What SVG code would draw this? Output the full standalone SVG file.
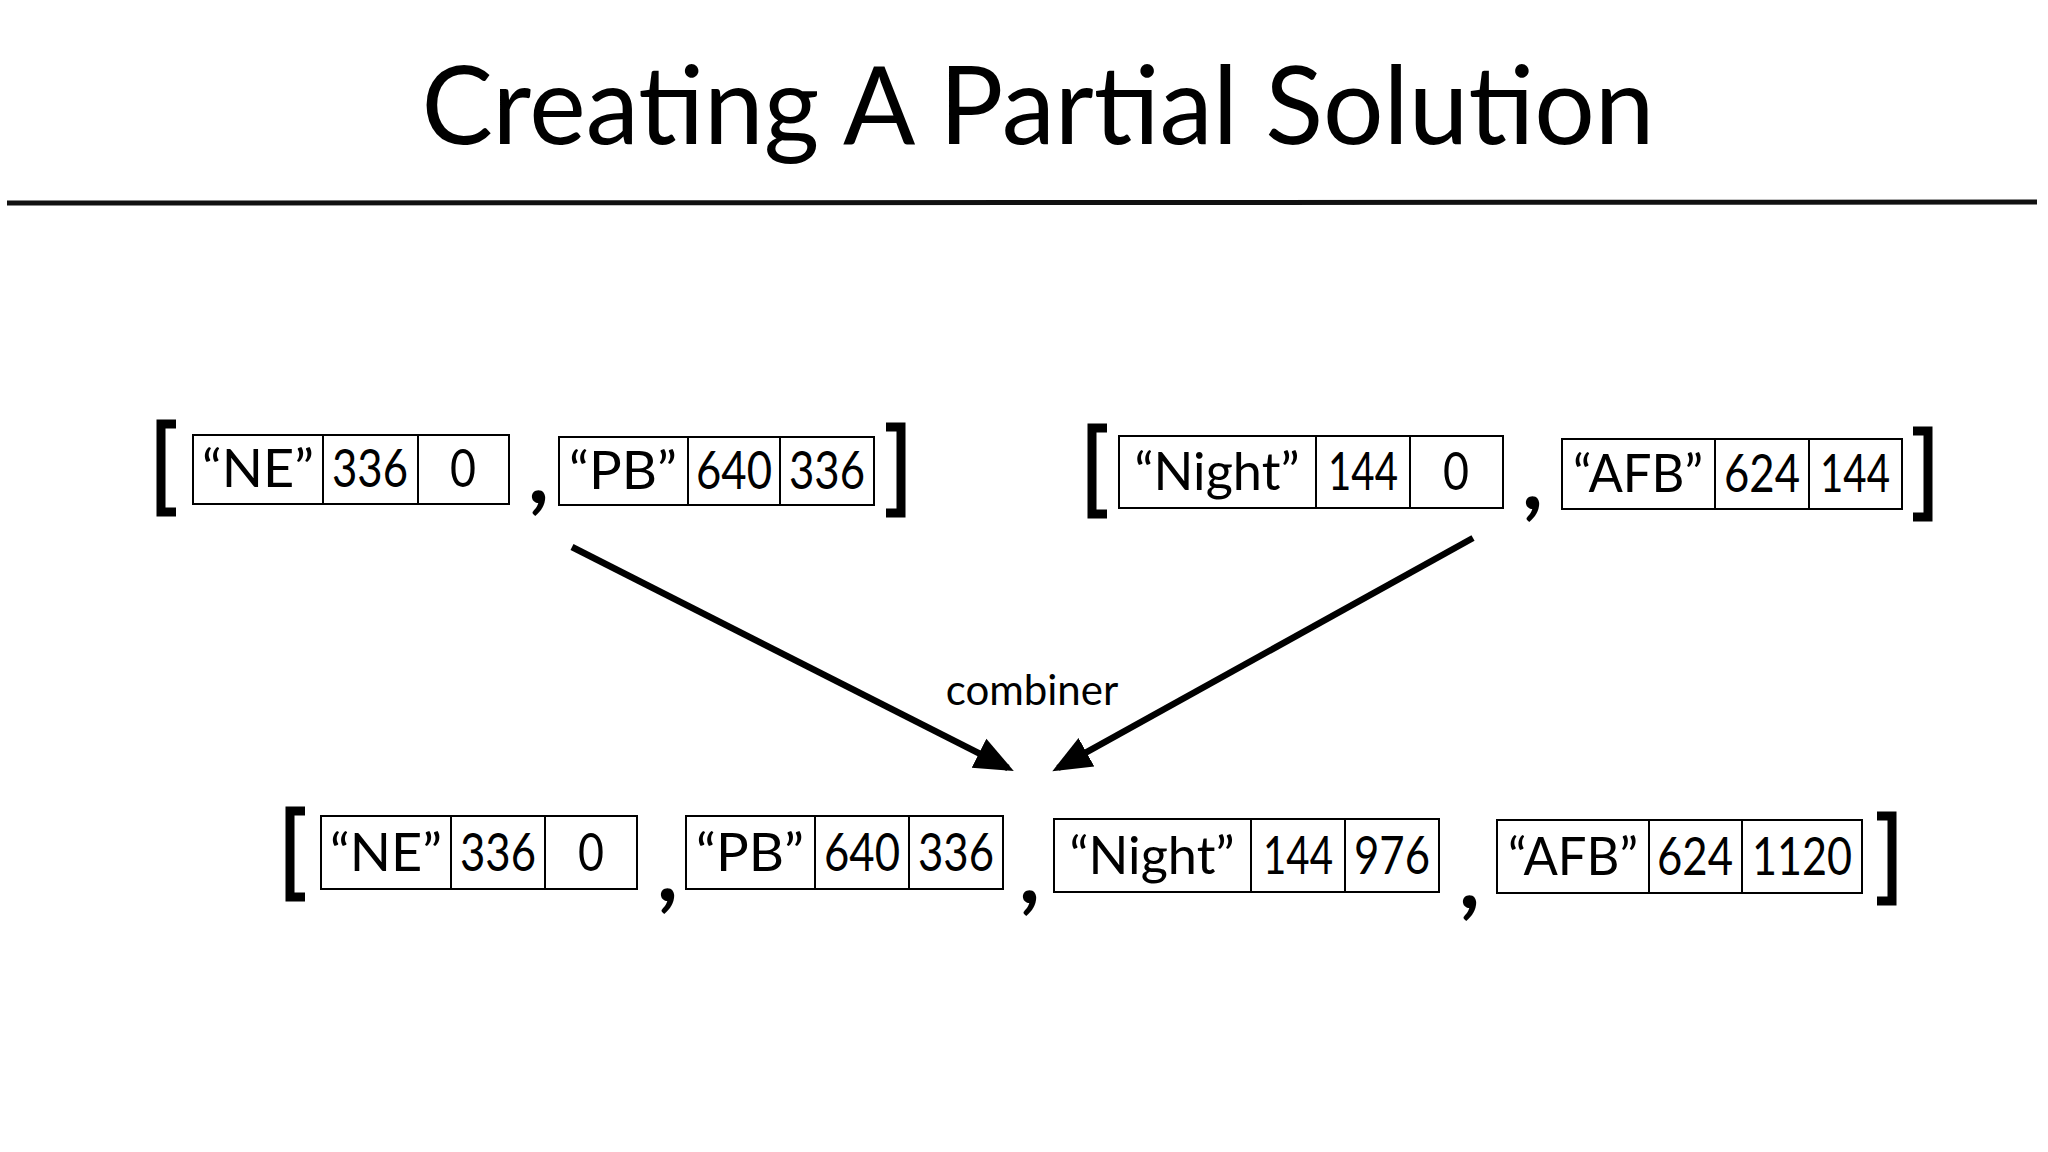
<svg xmlns="http://www.w3.org/2000/svg" width="2048" height="1152" viewBox="0 0 2048 1152">
<defs>
<style>
text{font-family:Lato,"Open Sans","Liberation Sans",sans-serif;fill:#000}
.cell{fill:#fff;stroke:#000;stroke-width:2}
.t{font-size:52px;text-anchor:middle}
.br{fill:none;stroke:#000;stroke-width:9}
.cm{font-size:90px;font-weight:bold}
.ar{stroke:#000;stroke-width:6.5;fill:none}
</style>
<marker id="ah" markerWidth="7" markerHeight="7" refX="5" refY="3.5" orient="auto" markerUnits="strokeWidth"><path d="M0,1 L6,3.5 L0,6 z" fill="#000"/></marker>
</defs>
<rect width="2048" height="1152" fill="#fff"/>
<g id="title"><text x="1038" y="144" font-size="108" text-anchor="middle" textLength="1233" lengthAdjust="spacingAndGlyphs">Creating A Partial Solution</text>
<path d="M7,203 L2037,202" stroke="#111" stroke-width="5"/></g>
<g id="connectors">
<path class="ar" d="M572,547 L1008,768" marker-end="url(#ah)"/>
<path class="ar" d="M1473,538 L1058,768" marker-end="url(#ah)"/>
<text x="1032" y="705" font-size="42" text-anchor="middle">combiner</text>
</g>
<g id="top-left">
<path class="br" d="M176,424 H161 V512 H176"/>
<rect class="cell" x="193" y="435" width="316" height="69"/><path class="cell" d="M323,435V504M418,435V504"/>
<text class="t" x="258" y="487" textLength="112" lengthAdjust="spacingAndGlyphs">“NE”</text><text class="t" x="370" y="487" textLength="76" lengthAdjust="spacingAndGlyphs">336</text><text class="t" x="463" y="487" textLength="26" lengthAdjust="spacingAndGlyphs">0</text>
<text class="cm" x="528" y="503">,</text>
<rect class="cell" x="559" y="437" width="315" height="68"/><path class="cell" d="M688,437V505M780,437V505"/>
<text class="t" x="623" y="489" textLength="108" lengthAdjust="spacingAndGlyphs">“PB”</text><text class="t" x="734" y="489" textLength="76" lengthAdjust="spacingAndGlyphs">640</text><text class="t" x="827" y="489" textLength="76" lengthAdjust="spacingAndGlyphs">336</text>
<path class="br" d="M886,427 H901 V513 H886"/>
</g>
<g id="top-right">
<path class="br" d="M1107,428 H1092 V514 H1107"/>
<rect class="cell" x="1119" y="436" width="384" height="72"/><path class="cell" d="M1316,436V508M1410,436V508"/>
<text class="t" x="1217" y="490" textLength="165" lengthAdjust="spacingAndGlyphs">“Night”</text><text class="t" x="1363" y="490" textLength="70" lengthAdjust="spacingAndGlyphs">144</text><text class="t" x="1456" y="490" textLength="26" lengthAdjust="spacingAndGlyphs">0</text>
<text class="cm" x="1522" y="509">,</text>
<rect class="cell" x="1562" y="439" width="340" height="70"/><path class="cell" d="M1715,439V509M1809,439V509"/>
<text class="t" x="1638" y="492" textLength="130" lengthAdjust="spacingAndGlyphs">“AFB”</text><text class="t" x="1762" y="492" textLength="76" lengthAdjust="spacingAndGlyphs">624</text><text class="t" x="1855" y="492" textLength="70" lengthAdjust="spacingAndGlyphs">144</text>
<path class="br" d="M1913,431 H1928 V517 H1913"/>
</g>
<g id="bottom">
<path class="br" d="M305,811 H290 V897 H305"/>
<rect class="cell" x="321" y="816" width="316" height="73"/><path class="cell" d="M451,816V889M545,816V889"/>
<text class="t" x="386" y="871" textLength="112" lengthAdjust="spacingAndGlyphs">“NE”</text><text class="t" x="498" y="871" textLength="76" lengthAdjust="spacingAndGlyphs">336</text><text class="t" x="591" y="871" textLength="26" lengthAdjust="spacingAndGlyphs">0</text>
<text class="cm" x="657" y="901">,</text>
<rect class="cell" x="686" y="816" width="317" height="73"/><path class="cell" d="M815,816V889M909,816V889"/>
<text class="t" x="750" y="871" textLength="108" lengthAdjust="spacingAndGlyphs">“PB”</text><text class="t" x="862" y="871" textLength="76" lengthAdjust="spacingAndGlyphs">640</text><text class="t" x="956" y="871" textLength="76" lengthAdjust="spacingAndGlyphs">336</text>
<text class="cm" x="1019" y="903">,</text>
<rect class="cell" x="1054" y="819" width="385" height="73"/><path class="cell" d="M1251,819V892M1345,819V892"/>
<text class="t" x="1152" y="874" textLength="165" lengthAdjust="spacingAndGlyphs">“Night”</text><text class="t" x="1298" y="874" textLength="70" lengthAdjust="spacingAndGlyphs">144</text><text class="t" x="1392" y="874" textLength="76" lengthAdjust="spacingAndGlyphs">976</text>
<text class="cm" x="1459" y="908">,</text>
<rect class="cell" x="1497" y="820" width="365" height="73"/><path class="cell" d="M1649,820V893M1742,820V893"/>
<text class="t" x="1573" y="875" textLength="130" lengthAdjust="spacingAndGlyphs">“AFB”</text><text class="t" x="1695" y="875" textLength="76" lengthAdjust="spacingAndGlyphs">624</text><text class="t" x="1802" y="875" textLength="100" lengthAdjust="spacingAndGlyphs">1120</text>
<path class="br" d="M1877,816 H1892 V901 H1877"/>
</g>
</svg>
